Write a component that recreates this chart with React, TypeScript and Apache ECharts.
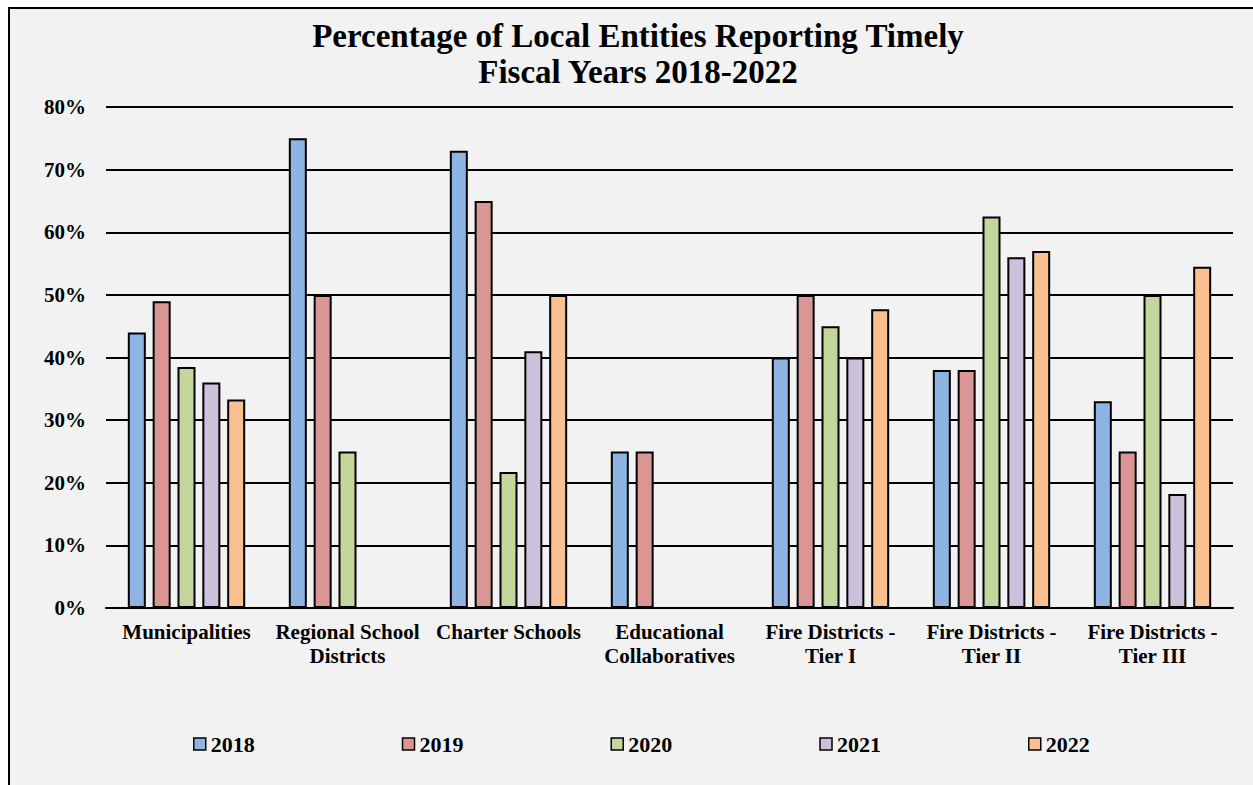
import React, { useEffect, useRef } from "react";
import * as echarts from "echarts";

const categories = [
  "Municipalities",
  "Regional School\nDistricts",
  "Charter Schools",
  "Educational\nCollaboratives",
  "Fire Districts -\nTier I",
  "Fire Districts -\nTier II",
  "Fire Districts -\nTier III",
];

const years = ["2018", "2019", "2020", "2021", "2022"];

const values2018 = [44, 75, 73, 25, 40, 38, 33];
const values2019 = [49, 50, 65, 25, 50, 38, 25];
const values2020 = [38.5, 25, 21.7, null, 45, 62.5, 50];
const values2021 = [36, null, 41, null, 40, 56, 18.2];
const values2022 = [33.3, null, 50, null, 47.7, 57, 54.5];

const yearColors = ["#8eb4e3", "#d99694", "#c3d69b", "#ccc1da", "#fac090"];

const FONT = '"Liberation Serif", "Times New Roman", serif';

export default function App() {
  const ref = useRef<HTMLDivElement>(null);

  useEffect(() => {
    if (!ref.current) return;
    const chart = echarts.init(ref.current, undefined, { renderer: "svg" });
    const seriesValues = [values2018, values2019, values2020, values2021, values2022];

    chart.setOption({
      animation: false,
      backgroundColor: "#f2f2f2",
      textStyle: { fontFamily: FONT, color: "#000" },
      title: {
        text: "Percentage of Local Entities Reporting Timely\nFiscal Years 2018-2022",
        left: 623,
        top: 4,
        textAlign: "center",
        textStyle: {
          fontFamily: FONT,
          fontWeight: "bold",
          fontSize: 33,
          lineHeight: 36,
          color: "#000",
        },
      },
      legend: {
        data: years,
        left: 178,
        top: 719,
        itemWidth: 12,
        itemHeight: 12,
        itemGap: 147,
        icon: "rect",
        itemStyle: { borderColor: "#000", borderWidth: 1.5 },
        textStyle: {
          fontFamily: FONT,
          fontWeight: "bold",
          fontSize: 22,
          color: "#000",
          padding: [0, 0, 0, 0],
        },
      },
      grid: { left: 96, right: 20, top: 98, bottom: 177 },
      xAxis: {
        type: "category",
        data: categories,
        axisLine: { lineStyle: { color: "#000", width: 2 } },
        axisTick: { show: false },
        axisLabel: {
          interval: 0,
          margin: 12,
          fontFamily: FONT,
          fontWeight: "bold",
          fontSize: 21,
          lineHeight: 24,
          color: "#000",
        },
      },
      yAxis: {
        type: "value",
        min: 0,
        max: 80,
        interval: 10,
        axisLine: { show: false },
        axisTick: { show: false },
        splitLine: { lineStyle: { color: "#000", width: 2 } },
        axisLabel: {
          formatter: "{value}%",
          margin: 20,
          fontFamily: FONT,
          fontWeight: "bold",
          fontSize: 21,
          color: "#000",
        },
      },
      series: years.map((y, i) => ({
        name: y,
        type: "bar",
        data: seriesValues[i],
        barWidth: 18,
        barGap: "38%",
        itemStyle: { color: yearColors[i], borderColor: "#000", borderWidth: 2 },
      })),
    });

    return () => chart.dispose();
  }, []);

  return (
    <div
      style={{
        position: "fixed",
        left: 8,
        top: 7,
        width: 1245,
        height: 778,
        borderLeft: "2px solid #000",
        borderTop: "2px solid #000",
        boxSizing: "border-box",
        background: "#f2f2f2",
      }}
    >
      <div ref={ref} style={{ width: 1243, height: 776 }} />
    </div>
  );
}
